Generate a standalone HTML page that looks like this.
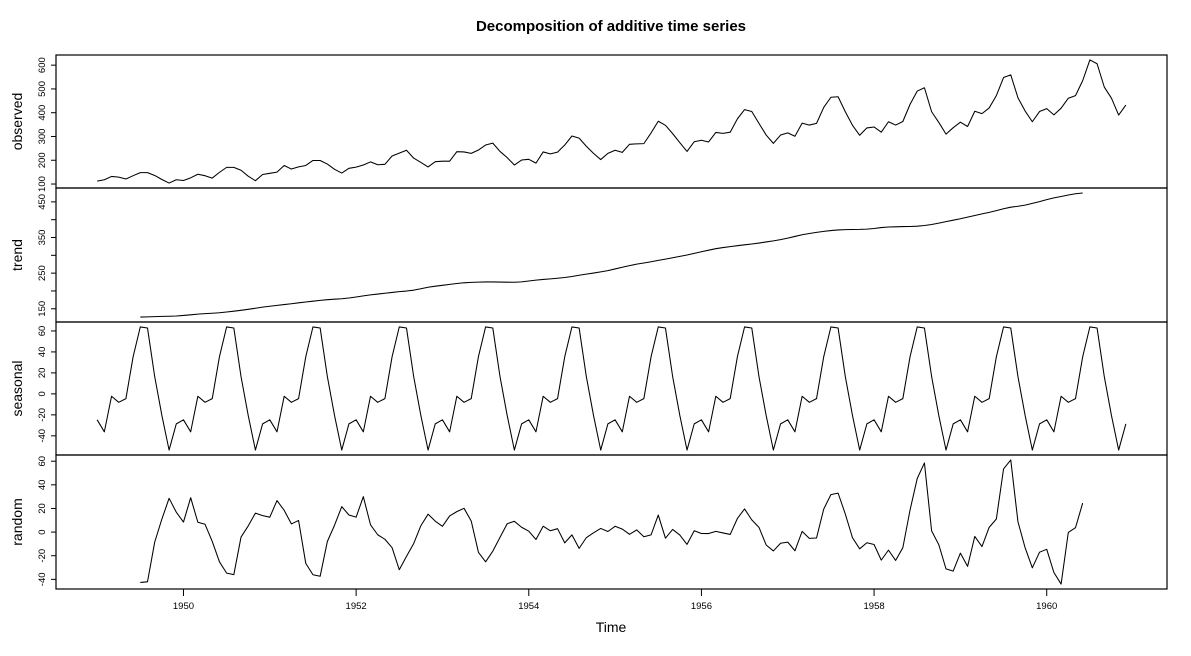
<!DOCTYPE html>
<html><head><meta charset="utf-8">
<style>
html,body{margin:0;padding:0;background:#fff;}
svg{display:block;font-family:"Liberation Sans",Arial,sans-serif;}
</style></head>
<body>
<svg id="chart" width="1191" height="656" viewBox="0 0 1191 656" xmlns="http://www.w3.org/2000/svg">
<rect x="0" y="0" width="1191" height="656" fill="#fff"/>
<text x="611" y="31" text-anchor="middle" font-size="15" font-weight="bold">Decomposition of additive time series</text>
<text x="611" y="632" text-anchor="middle" font-size="14">Time</text>
<g id="panels"></g>
</svg>
<script>
const startYear = 1949;
const observed = [112,118,132,129,121,135,148,148,136,119,104,118,
115,126,141,135,125,149,170,170,158,133,114,140,
145,150,178,163,172,178,199,199,184,162,146,166,
171,180,193,181,183,218,230,242,209,191,172,194,
196,196,236,235,229,243,264,272,237,211,180,201,
204,188,235,227,234,264,302,293,259,229,203,229,
242,233,267,269,270,315,364,347,312,274,237,278,
284,277,317,313,318,374,413,405,355,306,271,306,
315,301,356,348,355,422,465,467,404,347,305,336,
340,318,362,348,363,435,491,505,404,359,310,337,
360,342,406,396,420,472,548,559,463,407,362,405,
417,391,419,461,472,535,622,606,508,461,390,432];
const trendStart = 6;
const trend = [126.79,127.25,127.96,128.58,129.00,129.75,
131.25,133.08,134.92,136.42,137.42,138.75,140.92,143.17,145.71,148.42,151.54,154.71,
157.13,159.54,161.83,164.13,166.67,169.08,171.25,173.58,175.46,176.83,178.04,180.17,
183.13,186.21,189.04,191.29,193.58,195.83,198.04,199.75,202.21,206.25,210.42,213.38,
215.83,218.50,220.92,222.92,224.08,224.71,225.33,225.33,224.96,224.58,224.46,225.54,
228.00,230.46,232.25,233.92,235.63,237.75,240.50,243.96,247.17,250.25,253.50,257.13,
261.83,266.67,271.13,275.21,278.50,281.96,285.75,289.33,293.25,297.17,301.00,305.46,
309.96,314.42,318.63,321.75,324.50,327.08,329.54,331.83,334.46,337.54,340.54,344.08,
348.25,353.00,357.63,361.38,364.50,367.17,369.46,371.21,372.17,372.42,372.75,373.63,
375.25,377.92,379.50,380.00,380.71,380.96,381.83,383.67,386.50,390.33,394.71,398.63,
402.54,407.17,411.88,416.33,420.50,425.50,430.71,435.13,437.71,440.96,445.83,450.63,
456.33,461.38,465.21,469.33,472.75,475.04];
const seasonalFigure = [-24.75,-36.19,-2.24,-8.04,-4.51,35.40,63.83,62.82,16.52,-20.64,-53.59,-28.62];
const random = [-42.62,-42.07,-8.48,11.06,28.59,16.87,
8.50,29.11,8.32,6.62,-7.91,-25.15,-34.75,-35.99,-4.23,5.22,16.05,13.91,
12.62,26.65,18.41,6.91,9.84,-26.48,-36.08,-37.40,-7.98,5.81,21.55,14.45,
12.62,29.98,6.20,-2.25,-6.07,-13.23,-31.87,-20.57,-9.73,5.39,15.17,9.24,
4.92,13.69,17.32,20.12,9.43,-17.11,-25.16,-16.15,-4.48,7.06,9.13,4.08,
0.75,-6.27,4.99,1.12,2.88,-9.15,-2.33,-13.78,-4.69,-0.61,3.09,0.49,
4.92,2.52,-1.89,1.83,-3.99,-2.36,14.42,-5.15,2.23,-2.53,-10.41,1.16,
-1.21,-1.23,0.61,-0.71,-1.99,11.52,19.63,10.35,4.02,-10.90,-15.95,-9.46,
-8.50,-15.81,0.61,-5.34,-4.99,19.43,31.71,32.97,15.31,-4.78,-14.16,-9.01,
-10.50,-23.73,-15.26,-23.96,-13.20,18.64,45.34,58.51,0.98,-10.69,-31.12,-33.01,
-17.79,-28.98,-3.64,-12.29,4.01,11.10,53.46,61.05,8.77,-13.32,-30.24,-17.01,
-14.58,-34.19,-43.97,-0.29,3.76,24.56];
const xTicks = [1950,1952,1954,1956,1958,1960];
const obsTicks = [100,200,300,400,500,600];
const trendTicks = [150,200,250,300,350,400,450];
const trendTickLabels = ["150","","250","","350","","450"];
const seasTicks = [-40,-20,0,20,40,60];
const randTicks = [-40,-20,0,20,40,60];

const NS = "http://www.w3.org/2000/svg";
const L = 56, R = 1167;
const nT = observed.length;
const t0 = startYear, t1 = startYear + (nT - 1) / 12;
const pad = (t1 - t0) * 0.04;
function xs(t){ return L + (t - (t0 - pad)) / ((t1 + pad) - (t0 - pad)) * (R - L); }
const g = document.getElementById('panels');
function el(tag, attrs, parent){
  const e = document.createElementNS(NS, tag);
  for (const k in attrs) e.setAttribute(k, attrs[k]);
  (parent || g).appendChild(e);
  return e;
}
function panel(name, top, bot, startIdx, values, ticks, labels){
  const vals = values.filter(v => v != null);
  let mn = Math.min(...vals), mx = Math.max(...vals);
  const p = (mx - mn) * 0.04; mn -= p; mx += p;
  const ys = v => bot - (v - mn) / (mx - mn) * (bot - top);
  const grp = el('g', {});
  
  
  const box = el('rect', {x:L, y:top, width:R-L, height:bot-top, fill:'none', stroke:'#000', 'stroke-width':1.2}, grp);
  
  
  let d = '';
  values.forEach((v, i) => {
    const t = t0 + (startIdx + i) / 12;
    d += (i ? 'L' : 'M') + xs(t).toFixed(2) + ' ' + ys(v).toFixed(2);
  });
  const line = el('path', {d:d, fill:'none', stroke:'#000', 'stroke-width':1.05, 'stroke-linejoin':'round'}, grp);
  
  
  const ax = el('g', {}, grp);
  
  
  ticks.forEach((tv, i) => {
    const y = ys(tv);
    if (y < top - 0.5 || y > bot + 0.5) return;
    el('line', {x1:L, x2:L-5, y1:y, y2:y, stroke:'#000', 'stroke-width':1}, ax);
    const lab = labels ? labels[i] : String(tv);
    if (lab) {
      const tx = el('text', {x:0, y:0, transform:`translate(45,${y}) rotate(-90)`, 'text-anchor':'middle', 'font-size':9.5}, ax);
      tx.textContent = lab;
    }
  });
  const tt = el('text', {x:0, y:0, transform:`translate(22,${(top+bot)/2}) rotate(-90)`, 'text-anchor':'middle', 'font-size':14}, grp);
  
  
  tt.textContent = name;
}
const seasonal = observed.map((_, i) => seasonalFigure[i % 12]);
panel('observed', 55, 188, 0, observed, obsTicks);
panel('trend', 188, 322, trendStart, trend, trendTicks, trendTickLabels);
panel('seasonal', 322, 455, 0, seasonal, seasTicks);
panel('random', 455, 589, trendStart, random, randTicks);
const xa = el('g', {});


xTicks.forEach(tv => {
  const x = xs(tv);
  el('line', {x1:x, x2:x, y1:589, y2:596, stroke:'#000', 'stroke-width':1}, xa);
  const tx = el('text', {x:x, y:609, 'text-anchor':'middle', 'font-size':9.5}, xa);
  tx.textContent = tv;
});
</script>
</body></html>
